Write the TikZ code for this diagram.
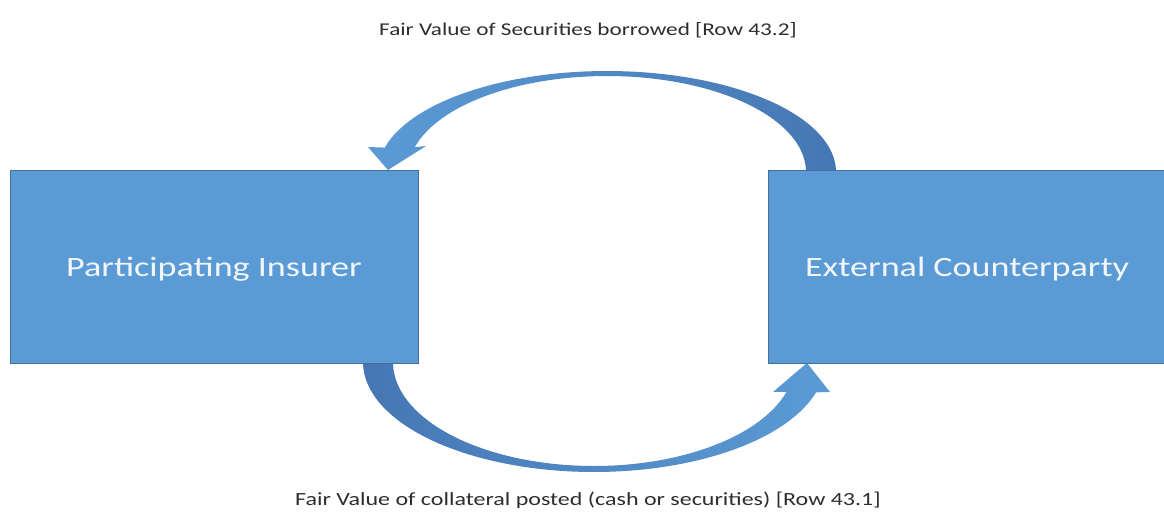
\documentclass[tikz,border=0pt]{standalone}
\usepackage{fontspec}
\setmainfont{Carlito}[FakeStretch=1.29]
\definecolor{boxfill}{HTML}{5B9BD5}
\definecolor{boxline}{HTML}{41719C}
\definecolor{arrdark}{HTML}{4677B3}
\definecolor{labeltext}{HTML}{2E2E2E}
\definecolor{boxtext}{HTML}{F2F6FB}
\newcommand{\lowertext}[1]{\raisebox{-2.5pt}[\height][\depth]{#1}}
\begin{document}
\begin{tikzpicture}[x=1pt,y=-1pt,
  box/.style={draw=boxline, line width=1pt, fill=boxfill, text=boxtext,
    minimum width=408pt, minimum height=193pt, inner sep=0pt,
    font=\fontsize{28}{34}\selectfont},
  flowlabel/.style={text=labeltext, font=\fontsize{18}{22}\selectfont,
    inner sep=0pt, anchor=base}
]
\useasboundingbox (0,0) rectangle (1164,515);
\fill[white] (0,0) rectangle (1164,515);

% top curved arrow (from External Counterparty to Participating Insurer)
\shade[left color=boxfill, right color=arrdark]
  plot[domain=0:166,samples=90] ({607+229*cos(\x)},{172-101*sin(\x)})
  -- (368,147) -- (388,170) -- (426,146)
  -- plot[domain=165:0,samples=90] ({607+199*cos(\x)},{172-96*sin(\x)})
  -- cycle;

% bottom curved arrow (from Participating Insurer to External Counterparty)
\shade[left color=arrdark, right color=boxfill]
  plot[domain=180:16,samples=90] ({594+231*cos(\x)},{362+110*sin(\x)})
  -- (830,392) -- (807,363) -- (773,392)
  -- plot[domain=16.7:180,samples=90] ({594+201*cos(\x)},{362+104*sin(\x)})
  -- cycle;

\node[box] (ins) at (214,266.5) {\lowertext{Participating Insurer}};
\node[box, minimum width=398pt] (cp) at (967,266.5) {\lowertext{External Counterparty}};

\node[flowlabel] (lt) at (588,35) {Fair Value of Securities borrowed [Row 43.2]};
\node[flowlabel, font=\fontsize{18.6}{23}\selectfont] (lb) at (588,505)
  {Fair Value of collateral posted (cash or securities) [Row 43.1]};
\end{tikzpicture}
\end{document}
